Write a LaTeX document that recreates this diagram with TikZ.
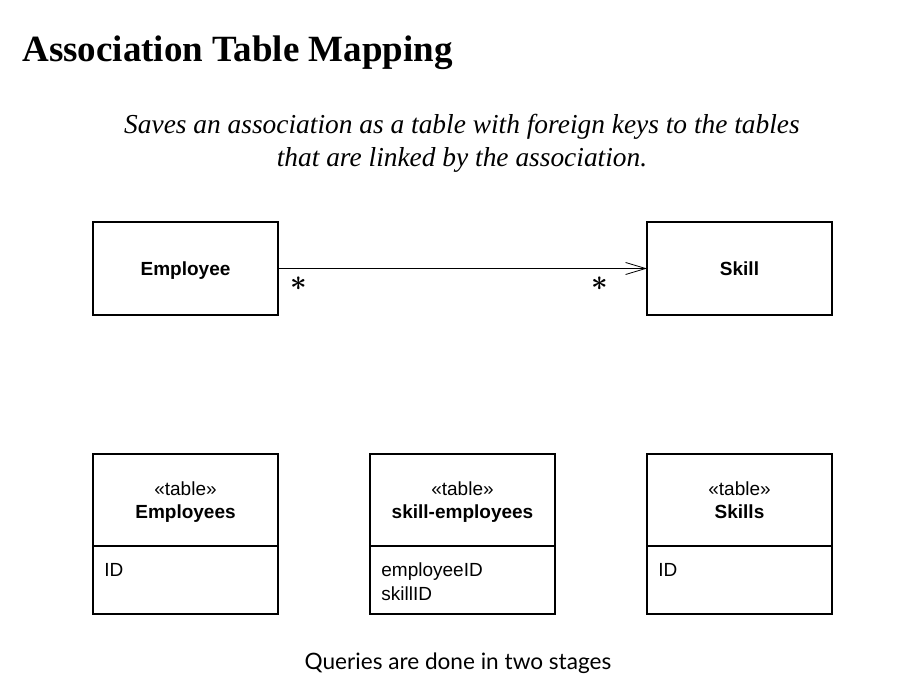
\documentclass[tikz,border=0pt]{standalone}
\usepackage{fontspec}
\setmainfont{Liberation Serif}
\setsansfont{Liberation Sans}
\newfontfamily\notefont{Lato}
\usetikzlibrary{arrows.meta,positioning}

\begin{document}
\begin{tikzpicture}[
    x=0.5pt, y=-0.5pt,
    cls/.style={rectangle, draw, line width=0.6pt, outer sep=0pt, text depth=0pt,
                minimum width=92.5pt, minimum height=46.5pt,
                font=\sffamily\bfseries\fontsize{9.5}{11.5}\selectfont},
    tblhead/.style={rectangle, draw, line width=0.6pt, outer sep=0pt, text depth=0pt,
                minimum width=92.5pt, minimum height=46pt, align=center,
                font=\sffamily\fontsize{9.5}{11.5}\selectfont},
    tblbody/.style={rectangle, draw, line width=0.6pt, outer sep=0pt,
                minimum width=92.5pt, minimum height=34pt},
    field/.style={inner sep=0pt, anchor=base west, xshift=5.5pt, yshift=-15pt,
                  font=\sffamily\fontsize{9.5}{12}\selectfont},
    mult/.style={font=\Large\boldmath, inner sep=1pt},
    >={Straight Barb[length=10pt,width=6pt]}
]
\useasboundingbox (0,0) rectangle (900,700);

% --- Heading ---
\node[anchor=base west, inner sep=0pt, font=\bfseries\fontsize{18.5}{20}\selectfont] (title)
  at (22,62) {Association Table Mapping};
\node[align=center, font=\itshape\fontsize{13.7}{16.5}\selectfont] (intent) at (462,143)
  {Saves an association as a table with foreign keys to the tables\\
   that are linked by the association.};

% --- Domain model: Employee * -- * Skill ---
\node[cls] (emp)   at (185.5,268.5) {Employee};
\node[cls] (skill) at (739.5,268.5) {Skill};
\draw[->, thin] (emp) -- node[mult, pos=0.057, below=3pt] (mEmp) {$\ast$}
                         node[mult, pos=0.873, below=3pt] (mSkill) {$\ast$} (skill);

% --- Tables: Employees, skill-employees, Skills ---
\node[tblhead] (empH) at (185.5,500) {«table»\\\textbf{Employees}};
\node[tblbody, below=0pt of empH] (empB) {};
\node[field] (empF) at (empB.north west) {ID};

\node[tblhead] (lnkH) at (462.5,500) {«table»\\\textbf{skill-employees}};
\node[tblbody, below=0pt of lnkH] (lnkB) {};
\node[field] (lnkF1) at (lnkB.north west) {employeeID};
\node[field, xshift=-5.5pt, yshift=3pt] (lnkF2) at (lnkF1.base west) {skillID};

\node[tblhead] (sklH) at (739.5,500) {«table»\\\textbf{Skills}};
\node[tblbody, below=0pt of sklH] (sklB) {};
\node[field] (sklF) at (sklB.north west) {ID};

% --- Note ---
\node[font=\notefont\fontsize{11.3}{13}\selectfont] (note) at (458,663)
  {Queries are done in two stages};
\end{tikzpicture}
\end{document}
